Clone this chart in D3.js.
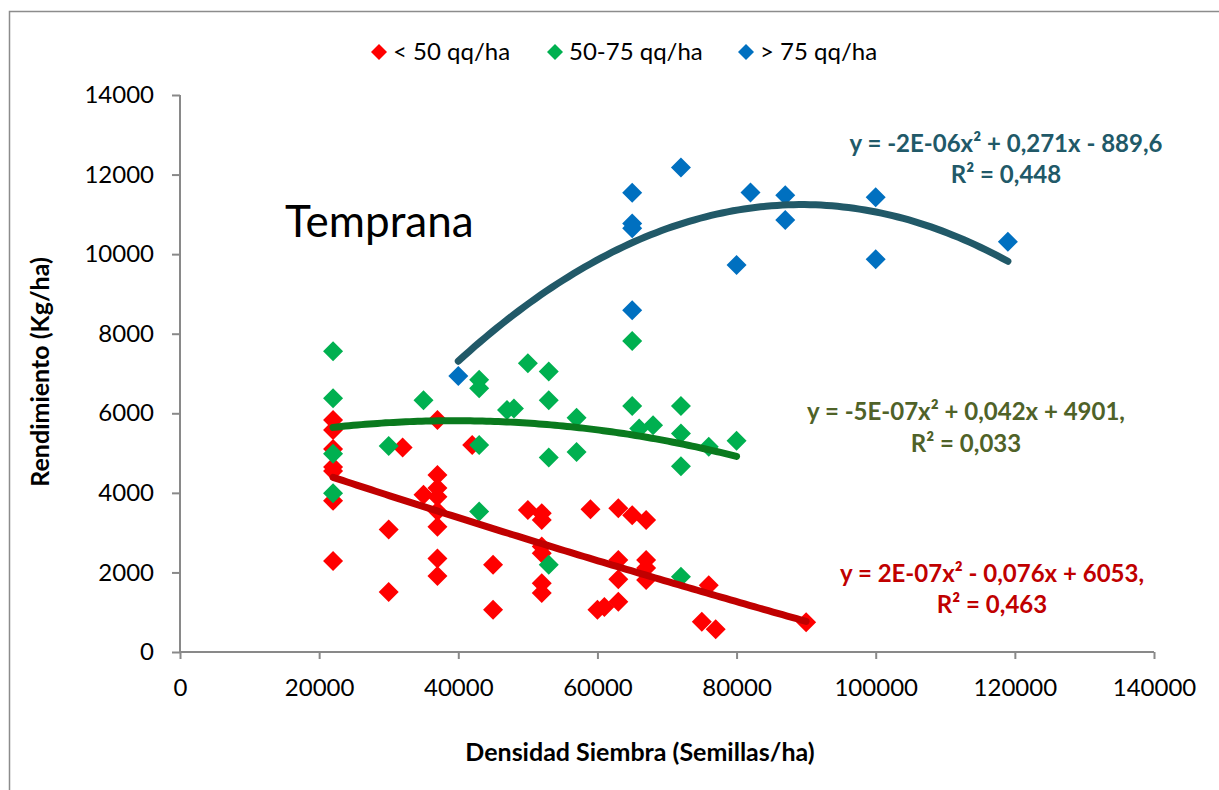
<!DOCTYPE html>
<html>
<head>
<meta charset="utf-8">
<script src="https://cdn.jsdelivr.net/npm/d3@7"></script>
<style>
  html, body { margin: 0; padding: 0; background: #fff; }
  svg { display: block; font-family: Lato, "Open Sans", sans-serif; }
</style>
</head>
<body>
<svg id="chart" width="1219" height="790"></svg>
<script>
// ---------- DATA ----------
const seriesNames = ["< 50 qq/ha", "50-75 qq/ha", "> 75 qq/ha"];
const xTicks = [0, 20000, 40000, 60000, 80000, 100000, 120000, 140000];
const yTicks = [0, 2000, 4000, 6000, 8000, 10000, 12000, 14000];

// < 50 qq/ha  [density, yield]
const lowX = [22000,22000,22000,22000,22000,22000,22000, 30000,30000, 32000, 35000,
  37000,37000,37000,37000,37000,37000,37000,37000, 42000, 45000,45000, 50000,
  52000,52000,52000,52000,52000,52000, 59000, 60000, 61000, 63000,63000,63000,63000,
  65000, 67000,67000,67000,67000, 75000, 76000, 77000, 90000];
const lowY = [5830,5580,5100,4650,4550,3800,2290, 3080,1510, 5140, 3950,
  5830,4450,4120,3900,3540,3150,2350,1910, 5200, 2190,1060, 3570,
  3490,3320,2650,2480,1730,1480, 3590, 1060, 1130, 3610,2310,1830,1260,
  3440, 3320,2310,2110,1810, 760, 1680, 570, 750];

// 50-75 qq/ha
const midX = [22000,22000,22000,22000, 30000, 35000, 43000,43000,43000,43000, 47000, 48000,
  50000, 53000,53000,53000,53000, 57000,57000, 65000,65000, 66000, 68000,
  72000,72000,72000,72000, 76000, 80000];
const midY = [7560,6380,4980,3990, 5180, 6330, 6840,6630,5200,3530, 6080, 6120,
  7260, 7050,6330,4890,2190, 5890,5030, 7820,6180, 5620, 5700,
  6180,5490,4670,1890, 5160, 5310];

// > 75 qq/ha
const highX = [40000, 65000,65000,65000,65000, 72000, 80000, 82000, 87000,87000, 100000,100000, 119000];
const highY = [6940, 11540,10770,10650,8590, 12180, 9730, 11550, 11480,10860, 11430,9870, 10310];

// Trend labels as printed on the chart
const eqLabels = [
  ["y = 2E-07x² - 0,076x + 6053,", "R² = 0,463"],
  ["y = -5E-07x² + 0,042x + 4901,", "R² = 0,033"],
  ["y = -2E-06x² + 0,271x - 889,6", "R² = 0,448"]
];

// ---------- STYLE ----------
const markerColors = ["#FF0000", "#00B050", "#0070C0"];
const trendColors = ["#C00000", "#0A7A1E", "#215968"];
const eqColors = ["#C00000", "#4F6228", "#215968"];
const eqPos = [[992, 582, 613], [966, 420, 452], [1006, 152, 183]];

const svg = d3.select("#chart");
const L = 180, R = 1154, T = 95, B = 652;

// outer border
svg.append("rect").attr("x", 9.5).attr("y", 11.5).attr("width", 1300).attr("height", 900)
  .attr("fill", "none").attr("stroke", "#8c8c8c").attr("stroke-width", 1.5);

const x = d3.scaleLinear().domain([0, 140000]).range([L, R]);
const y = d3.scaleLinear().domain([0, 14000]).range([B, T]);

const axisColor = "#898989";
const yAxis = svg.append("g").attr("transform", `translate(${L},0)`)
  .call(d3.axisLeft(y).tickValues(yTicks).tickSize(8).tickPadding(18).tickFormat(d3.format("d")));
const xAxis = svg.append("g").attr("transform", `translate(0,${B})`)
  .call(d3.axisBottom(x).tickValues(xTicks).tickSize(7).tickPadding(20).tickFormat(d3.format("d")));
[yAxis, xAxis].forEach(g => {
  g.select(".domain").attr("stroke", axisColor).attr("stroke-width", 2);
  g.selectAll(".tick line").attr("stroke", axisColor).attr("stroke-width", 2);
  g.selectAll(".tick text").attr("fill", "#000").attr("font-size", 24)
    .attr("font-family", "Lato, sans-serif");
});
yAxis.select(".domain").attr("d", `M0,${B}V${T}`);
xAxis.select(".domain").attr("d", `M${L},0H${R}`);

// axis titles
svg.append("text").attr("x", 640).attr("y", 761).attr("text-anchor", "middle")
  .attr("font-size", 25).attr("font-weight", "bold").text("Densidad Siembra (Semillas/ha)");
svg.append("text").attr("transform", "translate(49,372) rotate(-90)").attr("text-anchor", "middle")
  .attr("font-size", 25).attr("font-weight", "bold").text("Rendimiento (Kg/ha)");

// Temprana
svg.append("text").attr("x", 285).attr("y", 237).attr("font-size", 44).text("Temprana");

// ---------- markers ----------
const series = [
  { xs: lowX, ys: lowY },
  { xs: midX, ys: midY },
  { xs: highX, ys: highY }
];
function diamondPath(h) { return `M0,${-h}L${h},0L0,${h}L${-h},0Z`; }

series.forEach((s, i) => {
  const pts = s.xs.map((v, k) => [v, s.ys[k]]);
  svg.append("g").selectAll("path").data(pts).enter().append("path")
    .attr("d", diamondPath(10))
    .attr("transform", d => `translate(${x(d[0])},${y(d[1])})`)
    .attr("fill", markerColors[i]);
});

// ---------- trendlines (least-squares quadratic fit) ----------
function polyFit2(xs, ys) {
  const s = 1e-4;
  let S = [0,0,0,0,0], Sy = [0,0,0];
  xs.forEach((xv, k) => {
    const t = xv * s, yv = ys[k];
    for (let p = 0; p < 5; p++) S[p] += Math.pow(t, p);
    for (let p = 0; p < 3; p++) Sy[p] += Math.pow(t, p) * yv;
  });
  const A = [[S[0], S[1], S[2], Sy[0]], [S[1], S[2], S[3], Sy[1]], [S[2], S[3], S[4], Sy[2]]];
  for (let c = 0; c < 3; c++) {
    let piv = c;
    for (let r = c + 1; r < 3; r++) if (Math.abs(A[r][c]) > Math.abs(A[piv][c])) piv = r;
    [A[c], A[piv]] = [A[piv], A[c]];
    for (let r = 0; r < 3; r++) if (r !== c) {
      const f = A[r][c] / A[c][c];
      for (let k = c; k < 4; k++) A[r][k] -= f * A[c][k];
    }
  }
  const c0 = A[0][3] / A[0][0], c1 = A[1][3] / A[1][1], c2 = A[2][3] / A[2][2];
  return xv => { const t = xv * s; return c0 + c1 * t + c2 * t * t; };
}

const line = d3.line().x(d => x(d[0])).y(d => y(d[1])).curve(d3.curveLinear);
series.forEach((s, i) => {
  const f = polyFit2(s.xs, s.ys);
  const x0 = d3.min(s.xs), x1 = d3.max(s.xs);
  const pts = d3.range(0, 101).map(k => { const xv = x0 + (x1 - x0) * k / 100; return [xv, f(xv)]; });
  svg.append("path").attr("d", line(pts)).attr("fill", "none")
    .attr("stroke", trendColors[i]).attr("stroke-width", 7)
    .attr("stroke-linecap", "round").attr("stroke-linejoin", "round");
});

// ---------- equation labels ----------
eqLabels.forEach((lab, i) => {
  const [cx, y1, y2] = eqPos[i];
  [y1, y2].forEach((yy, j) => {
    svg.append("text").attr("x", cx).attr("y", yy).attr("text-anchor", "middle")
      .attr("font-size", 24).attr("font-weight", "bold").attr("fill", eqColors[i]).text(lab[j]);
  });
});

// ---------- legend ----------
const legX = [379, 555, 746];
seriesNames.forEach((n, i) => {
  svg.append("path").attr("d", diamondPath(8)).attr("transform", `translate(${legX[i]},52)`)
    .attr("fill", markerColors[i]);
  svg.append("text").attr("x", legX[i] + 14).attr("y", 60).attr("font-size", 24).text(n);
});
</script>
</body>
</html>
